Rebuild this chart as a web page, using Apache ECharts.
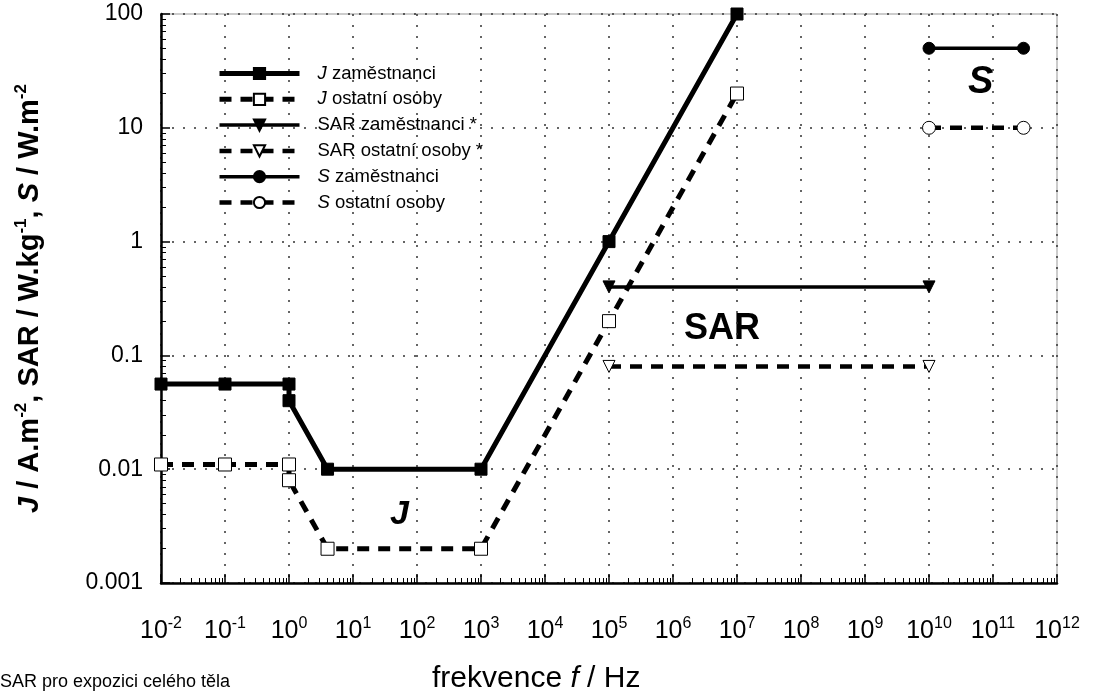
<!DOCTYPE html>
<html><head><meta charset="utf-8">
<script src="https://cdn.jsdelivr.net/npm/echarts@6/dist/echarts.min.js"></script>
<style>html,body{margin:0;padding:0;background:#fff}#c{width:1094px;height:699px}</style>
</head><body><div id="c"></div>
<script>
// ---- data ----
const freqJ = [0.01, 0.1, 1, 1, 4, 1000, 1e5, 1e7];
const jWorkers = [0.056, 0.056, 0.056, 0.04, 0.01, 0.01, 1, 100];
const jPublic = [0.011, 0.011, 0.011, 0.008, 0.002, 0.002, 0.2, 20];
const freqSAR = [1e5, 1e10];
const sarWorkers = [0.4, 0.4];
const sarPublic = [0.08, 0.08];
const freqS = [1e10, 3e11];
const sWorkers = [50, 50];
const sPublic = [10, 10];
const xTickExp = [-2, -1, 0, 1, 2, 3, 4, 5, 6, 7, 8, 9, 10, 11, 12];
const yTickLabels = ['0.001', '0.01', '0.1', '1', '10', '100'];
const seriesNames = ['J zaměstnanci', 'J ostatní osoby', 'SAR zaměstnanci *', 'SAR ostatní osoby *', 'S zaměstnanci', 'S ostatní osoby'];

const FONT = 'Liberation Sans, Arial, sans-serif';
const xTicks = xTickExp.map(e => Math.pow(10, e));
const yTicks = yTickLabels.map(Number);
function minorTicks(lo, hi) {
  const out = [];
  for (let e = lo; e < hi; e++) for (let k = 2; k <= 9; k++) out.push(k * Math.pow(10, e));
  return out;
}
const pair = (xs, ys) => xs.map((x, i) => [x, ys[i]]);

const dash = [12, 9];
function mk(name, xs, ys, opt) {
  return Object.assign({
    name, type: 'line', data: pair(xs, ys), xAxisIndex: 0, yAxisIndex: 0,
    animation: false, z: 5, showSymbol: true
  }, opt);
}
const filled = {color: '#000', borderColor: '#000', borderWidth: 1};
const open = {color: '#fff', borderColor: '#000', borderWidth: 1};

const chart = echarts.init(document.getElementById('c'));
chart.setOption({
  backgroundColor: '#fff',
  animation: false,
  grid: {left: 161, right: 37, top: 14, bottom: 116, containLabel: false, outerBoundsMode: 'none',
    show: true, borderColor: '#999', borderWidth: 1, backgroundColor: 'transparent'},
  legend: {
    orient: 'vertical', left: 212, top: 59, itemWidth: 80, itemHeight: 14, itemGap: 6.8,
    data: seriesNames,
    lineStyle: {width: 'inherit'},
    textStyle: {fontFamily: FONT, fontSize: 18.5, lineHeight: 18, color: '#000', padding: [0, 0, 0, 13],
      rich: {i: {fontStyle: 'italic', fontSize: 18.5, lineHeight: 18, fontFamily: FONT}}},
    formatter: n => n.replace(/^(J|S) /, '{i|$1} ')
  },
  xAxis: [{
    type: 'log', logBase: 10, min: 0.01, max: 1e12,
    axisLine: {show: true, onZero: false, lineStyle: {color: '#000', width: 2.5}},
    axisTick: {show: true, inside: true, length: 9, customValues: xTicks, lineStyle: {color: '#000', width: 1.5}},
    axisLabel: {customValues: xTicks, margin: 33, color: '#000',
      formatter: v => '{b|10}{s|' + Math.round(Math.log10(v)) + '}',
      rich: {b: {fontSize: 25, fontFamily: FONT, lineHeight: 30, color: '#000'},
             s: {fontSize: 16, fontFamily: FONT, lineHeight: 16, verticalAlign: 'top', color: '#000'}}},
    splitLine: {show: true, lineStyle: {color: '#333', width: 1.5, type: [2, 9]}}
  }, {
    type: 'log', logBase: 10, min: 0.01, max: 1e12, position: 'bottom',
    axisLine: {show: false},
    axisTick: {show: true, inside: true, length: 5, customValues: minorTicks(-2, 12), lineStyle: {color: '#000', width: 1}},
    axisLabel: {show: false}, splitLine: {show: false}
  }],
  yAxis: [{
    type: 'log', logBase: 10, min: 0.001, max: 100,
    axisLine: {show: true, onZero: false, lineStyle: {color: '#000', width: 2.5}},
    axisTick: {show: true, inside: true, length: 9, customValues: yTicks, lineStyle: {color: '#000', width: 1.5}},
    axisLabel: {customValues: yTicks, margin: 18, color: '#000', fontSize: 23, fontFamily: FONT,
      formatter: v => yTickLabels[Math.round(Math.log10(v)) + 3]},
    splitLine: {show: true, lineStyle: {color: '#333', width: 1.5, type: [2, 9]}},
    name: '{i|J} / A.m{s|-2}, SAR / W.kg{s|-1}, {i|S} / W.m{s|-2}',
    nameLocation: 'middle', nameGap: 114, nameRotate: 90,
    nameTextStyle: {color: '#000', fontSize: 29, fontWeight: 'bold', fontFamily: FONT,
      rich: {i: {fontStyle: 'italic', fontWeight: 'bold', fontSize: 29, fontFamily: FONT, lineHeight: 34, color: '#000'},
             s: {fontSize: 17, fontWeight: 'bold', fontFamily: FONT, verticalAlign: 'top', lineHeight: 17, color: '#000'}}}
  }, {
    type: 'log', logBase: 10, min: 0.001, max: 100, position: 'left',
    axisLine: {show: false},
    axisTick: {show: true, inside: true, length: 5, customValues: minorTicks(-3, 2), lineStyle: {color: '#000', width: 1}},
    axisLabel: {show: false}, splitLine: {show: false}
  }],
  series: [
    mk(seriesNames[0], freqJ, jWorkers, {symbol: 'rect', symbolSize: 12, itemStyle: filled, lineStyle: {color: '#000', width: 5}}),
    mk(seriesNames[1], freqJ, jPublic, {symbol: 'rect', symbolSize: 13, itemStyle: open, lineStyle: {color: '#000', width: 5, type: dash}}),
    mk(seriesNames[2], freqSAR, sarWorkers, {symbol: 'triangle', symbolRotate: 180, symbolSize: 12, itemStyle: filled, lineStyle: {color: '#000', width: 3.5}}),
    mk(seriesNames[3], freqSAR, sarPublic, {symbol: 'triangle', symbolRotate: 180, symbolSize: 12, itemStyle: open, lineStyle: {color: '#000', width: 4.5, type: dash}}),
    mk(seriesNames[4], freqS, sWorkers, {symbol: 'circle', symbolSize: 12, itemStyle: filled, lineStyle: {color: '#000', width: 3.5}}),
    mk(seriesNames[5], freqS, sPublic, {symbol: 'circle', symbolSize: 13, itemStyle: open, lineStyle: {color: '#000', width: 4.5, type: dash}})
  ],
  graphic: [
    {type: 'text', left: 390, top: 498, style: {text: 'J', font: 'italic bold 34px ' + FONT, fill: '#000'}},
    {type: 'text', left: 684, top: 311, style: {text: 'SAR', font: 'bold 36px ' + FONT, fill: '#000'}},
    {type: 'text', left: 968, top: 64, style: {text: 'S', font: 'italic bold 38px ' + FONT, fill: '#000'}},
    {type: 'text', left: 0, top: 673, style: {text: 'SAR pro expozici celého těla', font: '18px ' + FONT, fill: '#000'}},
    {type: 'text', left: 432, top: 664, style: {
      rich: {a: {font: '30px ' + FONT, fill: '#000'}, i: {font: 'italic 30px ' + FONT, fill: '#000'}},
      text: '{a|frekvence }{i|f}{a| / Hz}'}}
  ]
});
</script></body></html>
